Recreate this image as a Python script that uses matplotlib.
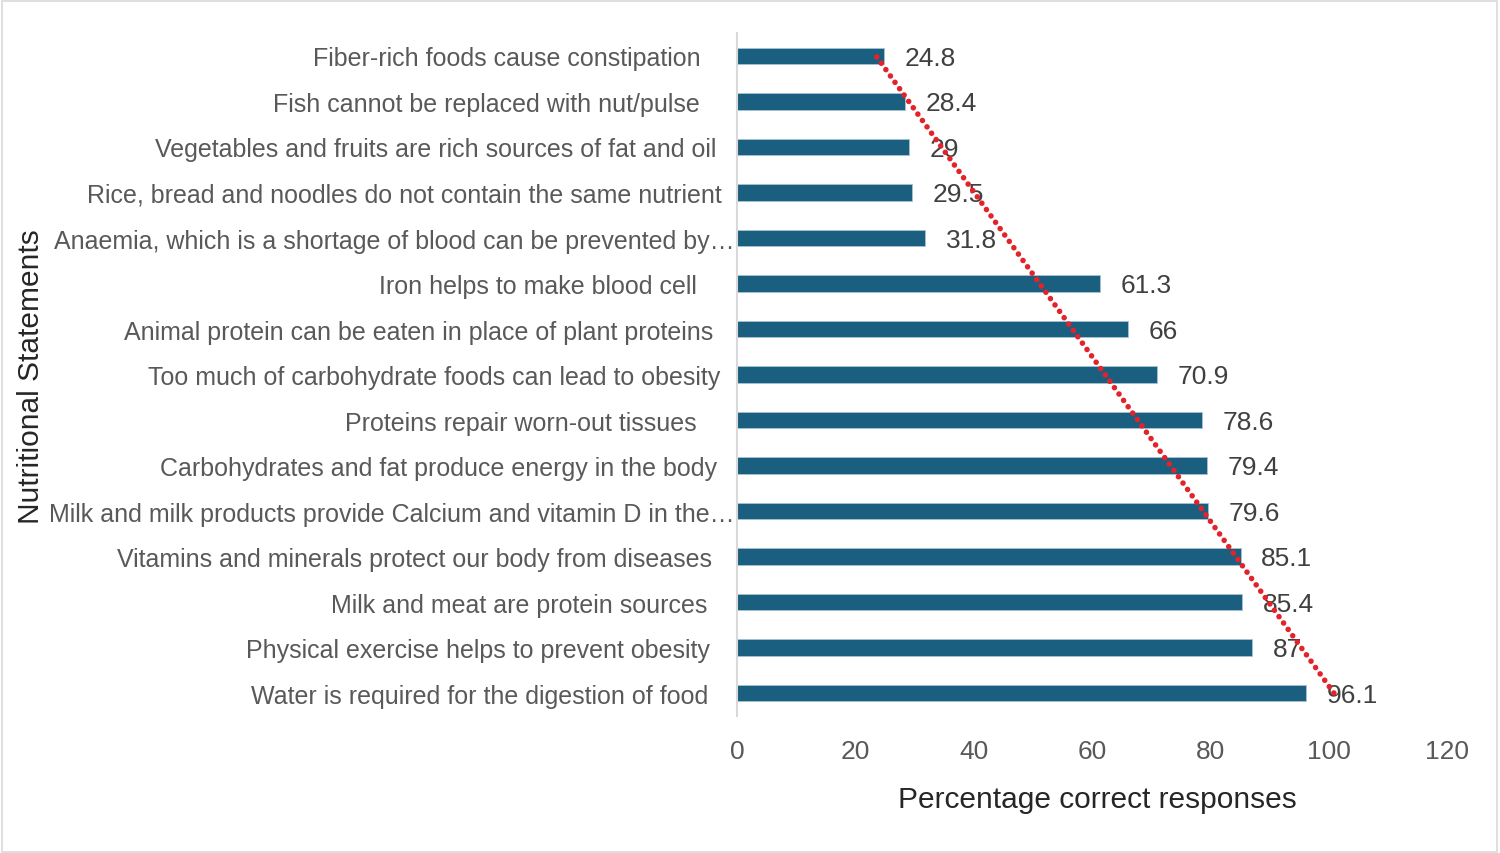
#!/usr/bin/env python3
"""Percentage of correct responses per nutritional statement, with linear trendline."""
import matplotlib
matplotlib.use("Agg")
import matplotlib.pyplot as plt
import matplotlib.transforms as mtransforms
import numpy as np
from matplotlib.patches import Rectangle

plt.rcParams["font.family"] = ["Liberation Sans", "DejaVu Sans"]

# categories listed bottom -> top (Excel order)
statements = [
    "Water is required for the digestion of food",
    "Physical exercise helps to prevent obesity",
    "Milk and meat are protein sources",
    "Vitamins and minerals protect our body from diseases",
    "Milk and milk products provide Calcium and vitamin D in the\u2026",
    "Carbohydrates and fat produce energy in the body",
    "Proteins repair worn-out tissues",
    "Too much of carbohydrate foods can lead to obesity",
    "Animal protein can be eaten in place of plant proteins",
    "Iron helps to make blood cell",
    "Anaemia, which is a shortage of blood can be prevented by\u2026",
    "Rice, bread and noodles do not contain the same nutrient",
    "Vegetables and fruits are rich sources of fat and oil",
    "Fish cannot be replaced with nut/pulse",
    "Fiber-rich foods cause constipation",
]
pct_correct = [96.1, 87, 85.4, 85.1, 79.6, 79.4, 78.6, 70.9, 66, 61.3,
               31.8, 29.5, 29, 28.4, 24.8]
value_labels = ["96.1", "87", "85.4", "85.1", "79.6", "79.4", "78.6", "70.9",
                "66", "61.3", "31.8", "29.5", "29", "28.4", "24.8"]
x_ticks = [0, 20, 40, 60, 80, 100, 120]

# source labels carry trailing blanks, so their right edges differ (px gap to axis)
label_gap_px = [29, 27, 30, 25, 2, 20, 40, 17, 24, 40, 2, 15, 21, 37, 36]

BAR_COLOR = "#1b5f80"
TREND_COLOR = "#e4222a"

fig = plt.figure(figsize=(15, 8.54), dpi=100)
ax = fig.add_axes([0.4913, 0.1607, 0.4734, 0.7992])

y = np.arange(len(statements))
ax.barh(y, pct_correct, height=0.37, color=BAR_COLOR,
        edgecolor="#a7c3d3", linewidth=0.6, zorder=2)

for yi, v, lab in zip(y, pct_correct, value_labels):
    ax.text(v + 3.5, yi - 0.04, lab, va="center", ha="left", fontsize=19,
            color="#404040", zorder=3)

# linear trendline (Excel-style) over category index
idx = y + 1
slope, intercept = np.polyfit(idx, pct_correct, 1)
trend = slope * idx + intercept
ax.plot(trend, y, color=TREND_COLOR, linewidth=4.0,
        linestyle=(0, (0.01, 1.4)), dash_capstyle="round", zorder=4)

ax.set_xlim(0, 120)
ax.set_ylim(-0.5, len(statements) - 0.5)
ax.set_xticks(x_ticks)
ax.set_xticklabels([str(t) for t in x_ticks])
ax.set_yticks(y)
ax.set_yticklabels(statements)

ax.tick_params(axis="x", length=0, pad=17, labelsize=19, labelcolor="#595959")
ax.tick_params(axis="y", length=0, pad=0, labelsize=18, labelcolor="#595959")

for lbl, gap in zip(ax.get_yticklabels(), label_gap_px):
    shift = mtransforms.ScaledTranslation(-gap / 100, 0, fig.dpi_scale_trans)
    lbl.set_transform(lbl.get_transform() + shift)

for side in ["top", "right", "bottom"]:
    ax.spines[side].set_visible(False)
ax.spines["left"].set_color("#d9d9d9")
ax.spines["left"].set_linewidth(1.5)

ax.set_xlabel("Percentage correct responses", fontsize=21.5, color="#262626")
ax.xaxis.set_label_coords(0.507, -0.102)
fig.text(0.0205, 0.5585, "Nutritional Statements", rotation=90, fontsize=21.5,
         color="#262626", ha="center", va="center")

# chart-area border
fig.patches.append(Rectangle((0.001, 0.001), 0.997, 0.997, transform=fig.transFigure,
                             fill=False, edgecolor="#d9d9d9", linewidth=1.2))

fig.savefig("out.png", dpi=100)
